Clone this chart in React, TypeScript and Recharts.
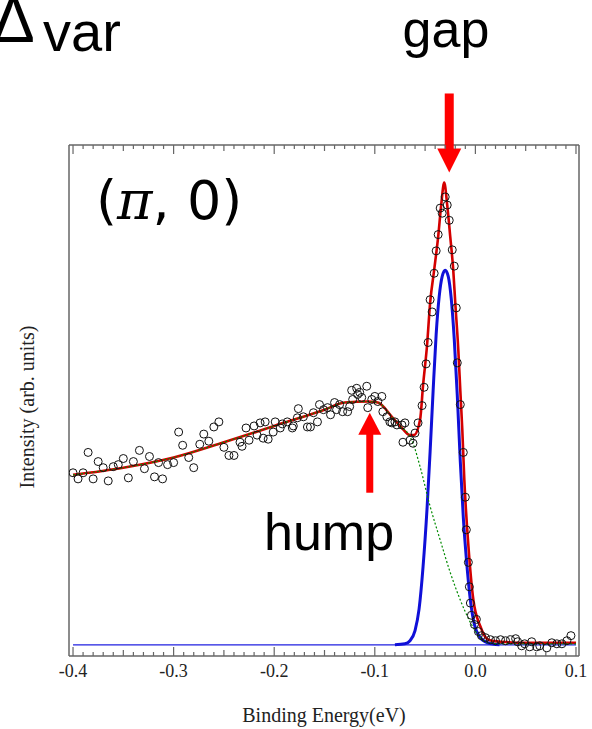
import React from 'react';
import { ComposedChart, Line, Scatter, XAxis, YAxis, ReferenceDot } from 'recharts';

// measured ARPES spectrum at (pi, 0): binding energy (eV), intensity (arb. units)
const measured = [
  [-0.4, 169], [-0.395, 163], [-0.39, 169], [-0.385, 189], [-0.38, 163], [-0.375, 180],
  [-0.37, 174], [-0.365, 161], [-0.36, 175], [-0.355, 177], [-0.35, 183], [-0.345, 164],
  [-0.34, 180], [-0.334, 191], [-0.329, 173], [-0.324, 185], [-0.319, 165], [-0.315, 179],
  [-0.311, 163], [-0.306, 177], [-0.3, 179], [-0.295, 209], [-0.291, 196], [-0.285, 184],
  [-0.28, 174], [-0.274, 197], [-0.27, 207], [-0.265, 200], [-0.26, 214], [-0.255, 219],
  [-0.25, 194], [-0.245, 186], [-0.24, 186], [-0.234, 199], [-0.232, 195], [-0.228, 213],
  [-0.225, 201], [-0.22, 215], [-0.217, 206], [-0.214, 218], [-0.211, 203], [-0.209, 219],
  [-0.206, 202], [-0.201, 209], [-0.199, 219], [-0.194, 213], [-0.192, 217], [-0.187, 219],
  [-0.182, 213], [-0.181, 215], [-0.177, 223], [-0.176, 232], [-0.171, 224], [-0.167, 214],
  [-0.164, 214], [-0.161, 228], [-0.157, 219], [-0.155, 236], [-0.151, 231], [-0.147, 233],
  [-0.144, 226], [-0.14, 238], [-0.138, 231], [-0.135, 236], [-0.132, 229], [-0.127, 229],
  [-0.125, 234], [-0.123, 250], [-0.122, 241], [-0.118, 252], [-0.117, 246], [-0.115, 248],
  [-0.113, 243], [-0.108, 254], [-0.107, 233], [-0.103, 241], [-0.1, 244], [-0.097, 239],
  [-0.093, 244], [-0.092, 229], [-0.088, 224], [-0.085, 219], [-0.083, 218], [-0.08, 219],
  [-0.078, 216], [-0.073, 216], [-0.07, 218], [-0.072, 199], [-0.065, 201], [-0.062, 198],
  [-0.06, 208], [-0.057, 218], [-0.053, 235], [-0.051, 253], [-0.049, 276], [-0.047, 297],
  [-0.045, 339], [-0.043, 327], [-0.041, 365], [-0.039, 387], [-0.037, 403], [-0.035, 429],
  [-0.033, 424], [-0.03, 440], [-0.028, 432], [-0.026, 417], [-0.023, 388], [-0.021, 372],
  [-0.019, 331], [-0.018, 277], [-0.015, 236], [-0.012, 189], [-0.01, 145], [-0.009, 113],
  [-0.007, 81], [-0.006, 57], [-0.005, 41], [-0.004, 29], [-0.001, 20], [0.001, 25],
  [0.003, 13], [0.006, 9], [0.01, 7], [0.015, 5], [0.02, 4], [0.025, 5],
  [0.03, 4], [0.035, 5], [0.04, 6], [0.042, 3], [0.046, -1], [0.049, 1],
  [0.054, -2], [0.056, 3], [0.061, -2], [0.064, -1], [0.071, -3], [0.076, 2],
  [0.081, 1], [0.086, 1], [0.091, 4], [0.095, 9],
];

// total fit (red)
const totalFit = [
  [-0.4, 167], [-0.35, 174], [-0.3, 184], [-0.25, 199], [-0.2, 215], [-0.15, 231],
  [-0.13, 238], [-0.107, 239], [-0.097, 238], [-0.083, 224], [-0.073, 213], [-0.065, 206],
  [-0.061, 206], [-0.055, 221], [-0.052, 255], [-0.048, 295], [-0.045, 336], [-0.041, 368],
  [-0.037, 401], [-0.034, 432], [-0.031, 454], [-0.028, 432], [-0.025, 401], [-0.022, 368],
  [-0.02, 336], [-0.017, 290], [-0.015, 250], [-0.013, 211], [-0.011, 162], [-0.007, 98],
  [-0.002, 44], [0.005, 18], [0.013, 5], [0.025, 3], [0.05, 2], [0.1, 2],
];

// hump / background component (green dashed)
const humpFit = [
  [-0.4, 167], [-0.35, 174], [-0.3, 184], [-0.25, 199], [-0.2, 215], [-0.15, 231],
  [-0.13, 238], [-0.107, 239], [-0.097, 238], [-0.083, 224], [-0.073, 213], [-0.068, 209],
  [-0.062, 198], [-0.055, 175], [-0.045, 136], [-0.035, 103], [-0.025, 71], [-0.015, 44],
  [-0.005, 22], [0.005, 7], [0.012, 2], [0.024, 1], [0.1, 1],
];

// quasiparticle peak (blue)
const peakFit = [
  [-0.08, 0], [-0.07, 1], [-0.065, 4], [-0.06, 14], [-0.056, 35], [-0.052, 77],
  [-0.048, 135], [-0.045, 190], [-0.042, 250], [-0.039, 305], [-0.036, 342], [-0.033, 362],
  [-0.03, 368], [-0.027, 362], [-0.024, 340], [-0.021, 300], [-0.018, 245], [-0.015, 180],
  [-0.012, 125], [-0.009, 85], [-0.005, 44], [-0.001, 20], [0.004, 8], [0.012, 2], [0.024, 0],
];
const peakBase = [[-0.4, 0], [0.1, 0]];

const xTicks = [
  -0.4, -0.39, -0.38, -0.37, -0.36, -0.35, -0.34, -0.33, -0.32, -0.31,
  -0.3, -0.29, -0.28, -0.27, -0.26, -0.25, -0.24, -0.23, -0.22, -0.21,
  -0.2, -0.19, -0.18, -0.17, -0.16, -0.15, -0.14, -0.13, -0.12, -0.11,
  -0.1, -0.09, -0.08, -0.07, -0.06, -0.05, -0.04, -0.03, -0.02, -0.01,
  0, 0.01, 0.02, 0.03, 0.04, 0.05, 0.06, 0.07, 0.08, 0.09, 0.1,
];

// annotation arrows: tip position in data units
const gapArrow = { x: -0.026, y: 464 };
const humpArrow = { x: -0.105, y: 228 };

const toPts = (rows: number[][]) => rows.map(([x, y]) => ({ x, y }));

const serif = '"Liberation Serif", "Times New Roman", serif';
const sans = '"Liberation Sans", Arial, sans-serif';
const axisColor = '#666';

function tickLen(v: number) {
  const k = Math.round(v * 100);
  if (k % 10 === 0) return 9;
  if (k % 5 === 0) return 6;
  return 4;
}

function BottomTick(props: any) {
  const { x, y, payload } = props;
  const v = payload.value;
  const major = Math.round(v * 100) % 10 === 0;
  return (
    <g>
      <line x1={x} x2={x} y1={y} y2={y - tickLen(v)} stroke={axisColor} strokeWidth={1.2} />
      {major && (
        <text x={x} y={y + 21} textAnchor='middle' fontSize={18} fontFamily={serif} fill='#222'>
          {v.toFixed(1)}
        </text>
      )}
    </g>
  );
}

function TopTick(props: any) {
  const { x, y, payload } = props;
  return <line x1={x} x2={x} y1={y} y2={y + tickLen(payload.value)} stroke={axisColor} strokeWidth={1.2} />;
}

function Ring(props: any) {
  return <circle cx={props.cx} cy={props.cy} r={4} fill='none' stroke='#111' strokeWidth={1} />;
}

function DownArrow(props: any) {
  const { cx, cy } = props;
  return (
    <g fill='#ff0000'>
      <rect x={cx - 4.5} y={cy - 79} width={9} height={58} />
      <polygon points={`${cx - 12},${cy - 24} ${cx + 12},${cy - 24} ${cx},${cy}`} />
    </g>
  );
}

function UpArrow(props: any) {
  const { cx, cy } = props;
  return (
    <g fill='#ff0000'>
      <rect x={cx - 3.5} y={cy + 20} width={7} height={60} />
      <polygon points={`${cx - 11.5},${cy + 22} ${cx + 11.5},${cy + 22} ${cx},${cy}`} />
    </g>
  );
}

export default function App() {
  return (
    <div style={{ position: 'absolute', left: 0, top: 0, width: 592, height: 729, background: '#fff' }}>
      <ComposedChart
        width={592}
        height={729}
        margin={{ top: 144, right: 12, bottom: 43, left: 68 }}
      >
        <XAxis
          dataKey='x'
          type='number'
          domain={[-0.404, 0.103]}
          allowDataOverflow
          ticks={xTicks}
          interval={0}
          tick={<BottomTick />}
          tickLine={false}
          tickSize={0}
          tickMargin={0}
          height={30}
          axisLine={{ stroke: axisColor, strokeWidth: 1.5 }}
        />
        <XAxis
          xAxisId='top'
          orientation='top'
          dataKey='x'
          type='number'
          domain={[-0.404, 0.103]}
          allowDataOverflow
          ticks={xTicks}
          interval={0}
          tick={<TopTick />}
          tickLine={false}
          tickSize={0}
          tickMargin={0}
          height={1}
          axisLine={{ stroke: axisColor, strokeWidth: 1.5 }}
        />
        <YAxis
          dataKey='y'
          type='number'
          domain={[-11, 491]}
          allowDataOverflow
          width={1}
          tick={false}
          tickLine={false}
          axisLine={{ stroke: axisColor, strokeWidth: 1.5 }}
        />
        <YAxis
          yAxisId='right'
          orientation='right'
          dataKey='y'
          type='number'
          domain={[-11, 491]}
          allowDataOverflow
          width={1}
          tick={false}
          tickLine={false}
          axisLine={{ stroke: axisColor, strokeWidth: 1.5 }}
        />
        <Line
          data={toPts(peakBase)}
          dataKey='y'
          type='linear'
          stroke='#2020e0'
          strokeWidth={1.2}
          dot={false}
          activeDot={false}
          isAnimationActive={false}
        />
        <Line
          data={toPts(peakFit)}
          dataKey='y'
          type='monotone'
          stroke='#1010d8'
          strokeWidth={3}
          dot={false}
          activeDot={false}
          isAnimationActive={false}
        />
        <Line
          data={toPts(totalFit)}
          dataKey='y'
          type='monotone'
          stroke='#d40000'
          strokeWidth={2.6}
          dot={false}
          activeDot={false}
          isAnimationActive={false}
        />
        <Line
          data={toPts(humpFit)}
          dataKey='y'
          type='monotone'
          stroke='#008a00'
          strokeWidth={1.2}
          strokeDasharray='2 2'
          dot={false}
          activeDot={false}
          isAnimationActive={false}
        />
        <Scatter
          data={toPts(measured)}
          dataKey='y'
          shape={<Ring />}
          isAnimationActive={false}
        />
        <ReferenceDot x={gapArrow.x} y={gapArrow.y} ifOverflow='visible' shape={<DownArrow />} />
        <ReferenceDot x={humpArrow.x} y={humpArrow.y} ifOverflow='visible' shape={<UpArrow />} />
      </ComposedChart>
      <svg
        width={592}
        height={729}
        style={{ position: 'absolute', left: 0, top: 0, pointerEvents: 'none' }}
      >
        <text x={-8} y={42} fontSize={64} fontFamily={sans} fill='#000'>Δ</text>
        <text x={43} y={51} fontSize={56} fontFamily={sans} fill='#000'>var</text>
        <text x={446} y={47} fontSize={52} fontFamily={sans} textAnchor='middle' fill='#000'>gap</text>
        <text x={264} y={550} fontSize={52} fontFamily={sans} fill='#000'>hump</text>
        <text x={96} y={219} fontSize={54} fontFamily='"DejaVu Sans", sans-serif' fill='#000'>
          (<tspan fontFamily='"DejaVu Serif", serif' fontStyle='italic'>π</tspan>, 0)
        </text>
        <text
          transform='translate(34,407) rotate(-90)'
          textAnchor='middle'
          fontSize={20}
          fontFamily={serif}
          fill='#222'
        >
          Intensity (arb. units)
        </text>
        <text x={324} y={722} textAnchor='middle' fontSize={20} fontFamily={serif} fill='#222'>
          Binding Energy(eV)
        </text>
      </svg>
    </div>
  );
}
